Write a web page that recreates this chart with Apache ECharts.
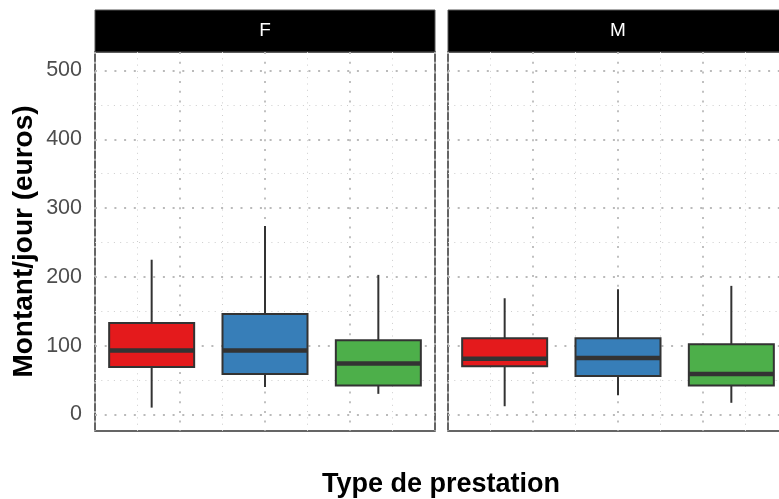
<!DOCTYPE html>
<html>
<head>
<meta charset="utf-8">
<script src="https://cdn.jsdelivr.net/npm/echarts@6/dist/echarts.min.js"></script>
<style>
  html, body { margin: 0; padding: 0; background: #fff; }
  #chart { width: 779px; height: 499px; }
</style>
</head>
<body>
<div id="chart"></div>
<script>
// donnees
var panels = ['F', 'M'];
var categories = ['Type 1', 'Type 2', 'Type 3'];
var colors = ['#E41A1C', '#377EB8', '#4DAF4A'];

var fLow  = [10, 40, 30];
var fQ1   = [69, 59, 42];
var fMed  = [93, 93, 74];
var fQ3   = [133, 146, 108];
var fHigh = [225, 274, 203];

var mLow  = [12, 28, 17];
var mQ1   = [70, 56, 42];
var mMed  = [81, 82, 59];
var mQ3   = [111, 111, 102];
var mHigh = [169, 182, 187];

var yTicks = [0, 100, 200, 300, 400, 500];
var yMinor = [50, 150, 250, 350, 450];

var font = '"Liberation Sans", Arial, sans-serif';
var majorLine = { color: '#bababa', width: 1.8, type: [2, 7.7] };
var minorLine = { color: '#cdcdcd', width: 1, type: [1, 5.3] };

function rows(low, q1, med, q3, high) {
	var out = [];
	for (var i = 0; i < low.length; i++) {
		out.push([i, low[i], q1[i], med[i], q3[i], high[i]]);
	}
	return out;
}

// boite a la ggplot : pas de barre aux extremites
function renderBox(params, api) {
	var c = api.value(0);
	var lo = api.coord([c, api.value(1)]);
	var q1 = api.coord([c, api.value(2)]);
	var md = api.coord([c, api.value(3)]);
	var q3 = api.coord([c, api.value(4)]);
	var hi = api.coord([c, api.value(5)]);
	var w = api.size([1, 0])[0] * 0.75;
	var x = lo[0];
	var stroke = '#333333';
	return {
		type: 'group',
		children: [
			{ type: 'line', shape: { x1: x, y1: hi[1], x2: x, y2: q3[1] }, style: { stroke: stroke, lineWidth: 2 } },
			{ type: 'line', shape: { x1: x, y1: q1[1], x2: x, y2: lo[1] }, style: { stroke: stroke, lineWidth: 2 } },
			{ type: 'rect', shape: { x: x - w / 2, y: q3[1], width: w, height: q1[1] - q3[1] },
				style: { fill: colors[c], stroke: stroke, lineWidth: 2 } },
			{ type: 'line', shape: { x1: x - w / 2, y1: md[1], x2: x + w / 2, y2: md[1] },
				style: { stroke: stroke, lineWidth: 4.5 } }
		]
	};
}

var panelData = [
	rows(fLow, fQ1, fMed, fQ3, fHigh),
	rows(mLow, mQ1, mMed, mQ3, mHigh)
];

var gridLeft = [95, 448];
var gridW = 340;

var grids = [], xAxes = [], yAxes = [], series = [], graphics = [];

panels.forEach(function(p, i) {
	grids.push({
		left: gridLeft[i], top: 52, width: gridW, height: 379,
		outerBoundsMode: 'none', containLabel: false,
		show: true, borderColor: '#333333', borderWidth: 1.5, backgroundColor: 'transparent'
	});
	// axe des boites
	xAxes.push({
		gridIndex: i, type: 'category', data: categories,
		axisLine: { show: false }, axisTick: { show: false }, axisLabel: { show: false },
		splitLine: { show: false }
	});
	// axe pour le quadrillage vertical
	xAxes.push({
		gridIndex: i, type: 'value', min: 0, max: 8, interval: 2,
		axisLine: { show: false }, axisTick: { show: false }, axisLabel: { show: false },
		splitLine: { show: true, lineStyle: majorLine },
		minorTick: { show: false, splitNumber: 2 },
		minorSplitLine: { show: true, lineStyle: minorLine }
	});
	yAxes.push({
		gridIndex: i, type: 'value', min: -24, max: 527,
		name: i === 0 ? 'Montant/jour (euros)' : '',
		nameLocation: 'middle', nameGap: 57,
		nameTextStyle: { fontSize: 28, fontWeight: 'bold', color: '#000', fontFamily: font },
		axisLine: { show: false },
		axisTick: { show: false, customValues: yTicks },
		axisLabel: { show: i === 0, customValues: yTicks, color: '#4d4d4d', fontSize: 21.5, fontFamily: font, margin: 13 },
		splitLine: { show: true, lineStyle: majorLine }
	});
	yAxes.push({
		gridIndex: i, type: 'value', min: -24, max: 527, position: 'left',
		axisLine: { show: false },
		axisTick: { show: false, customValues: yMinor },
		axisLabel: { show: false, customValues: yMinor },
		splitLine: { show: true, lineStyle: minorLine }
	});
	series.push({
		type: 'custom',
		xAxisIndex: i * 2,
		yAxisIndex: i * 2,
		renderItem: renderBox,
		data: panelData[i],
		z: 5
	});
	// bandeau de facette
	graphics.push({
		type: 'rect', shape: { x: gridLeft[i], y: 10, width: gridW, height: 42 },
		style: { fill: '#000', stroke: '#555', lineWidth: 1 }
	});
	graphics.push({
		type: 'text', x: gridLeft[i] + gridW / 2, y: 31,
		style: { text: p, fill: '#fff', fontSize: 19, fontFamily: font, align: 'center', verticalAlign: 'middle' }
	});
});

graphics.push({
	type: 'text', x: 441, y: 485,
	style: { text: 'Type de prestation', fill: '#000', fontSize: 27, fontWeight: 'bold', fontFamily: font,
		align: 'center', verticalAlign: 'middle' }
});

var chart = echarts.init(document.getElementById('chart'));
chart.setOption({
	animation: false,
	backgroundColor: '#fff',
	grid: grids,
	xAxis: xAxes,
	yAxis: yAxes,
	series: series,
	graphic: graphics
});
</script>
</body>
</html>
